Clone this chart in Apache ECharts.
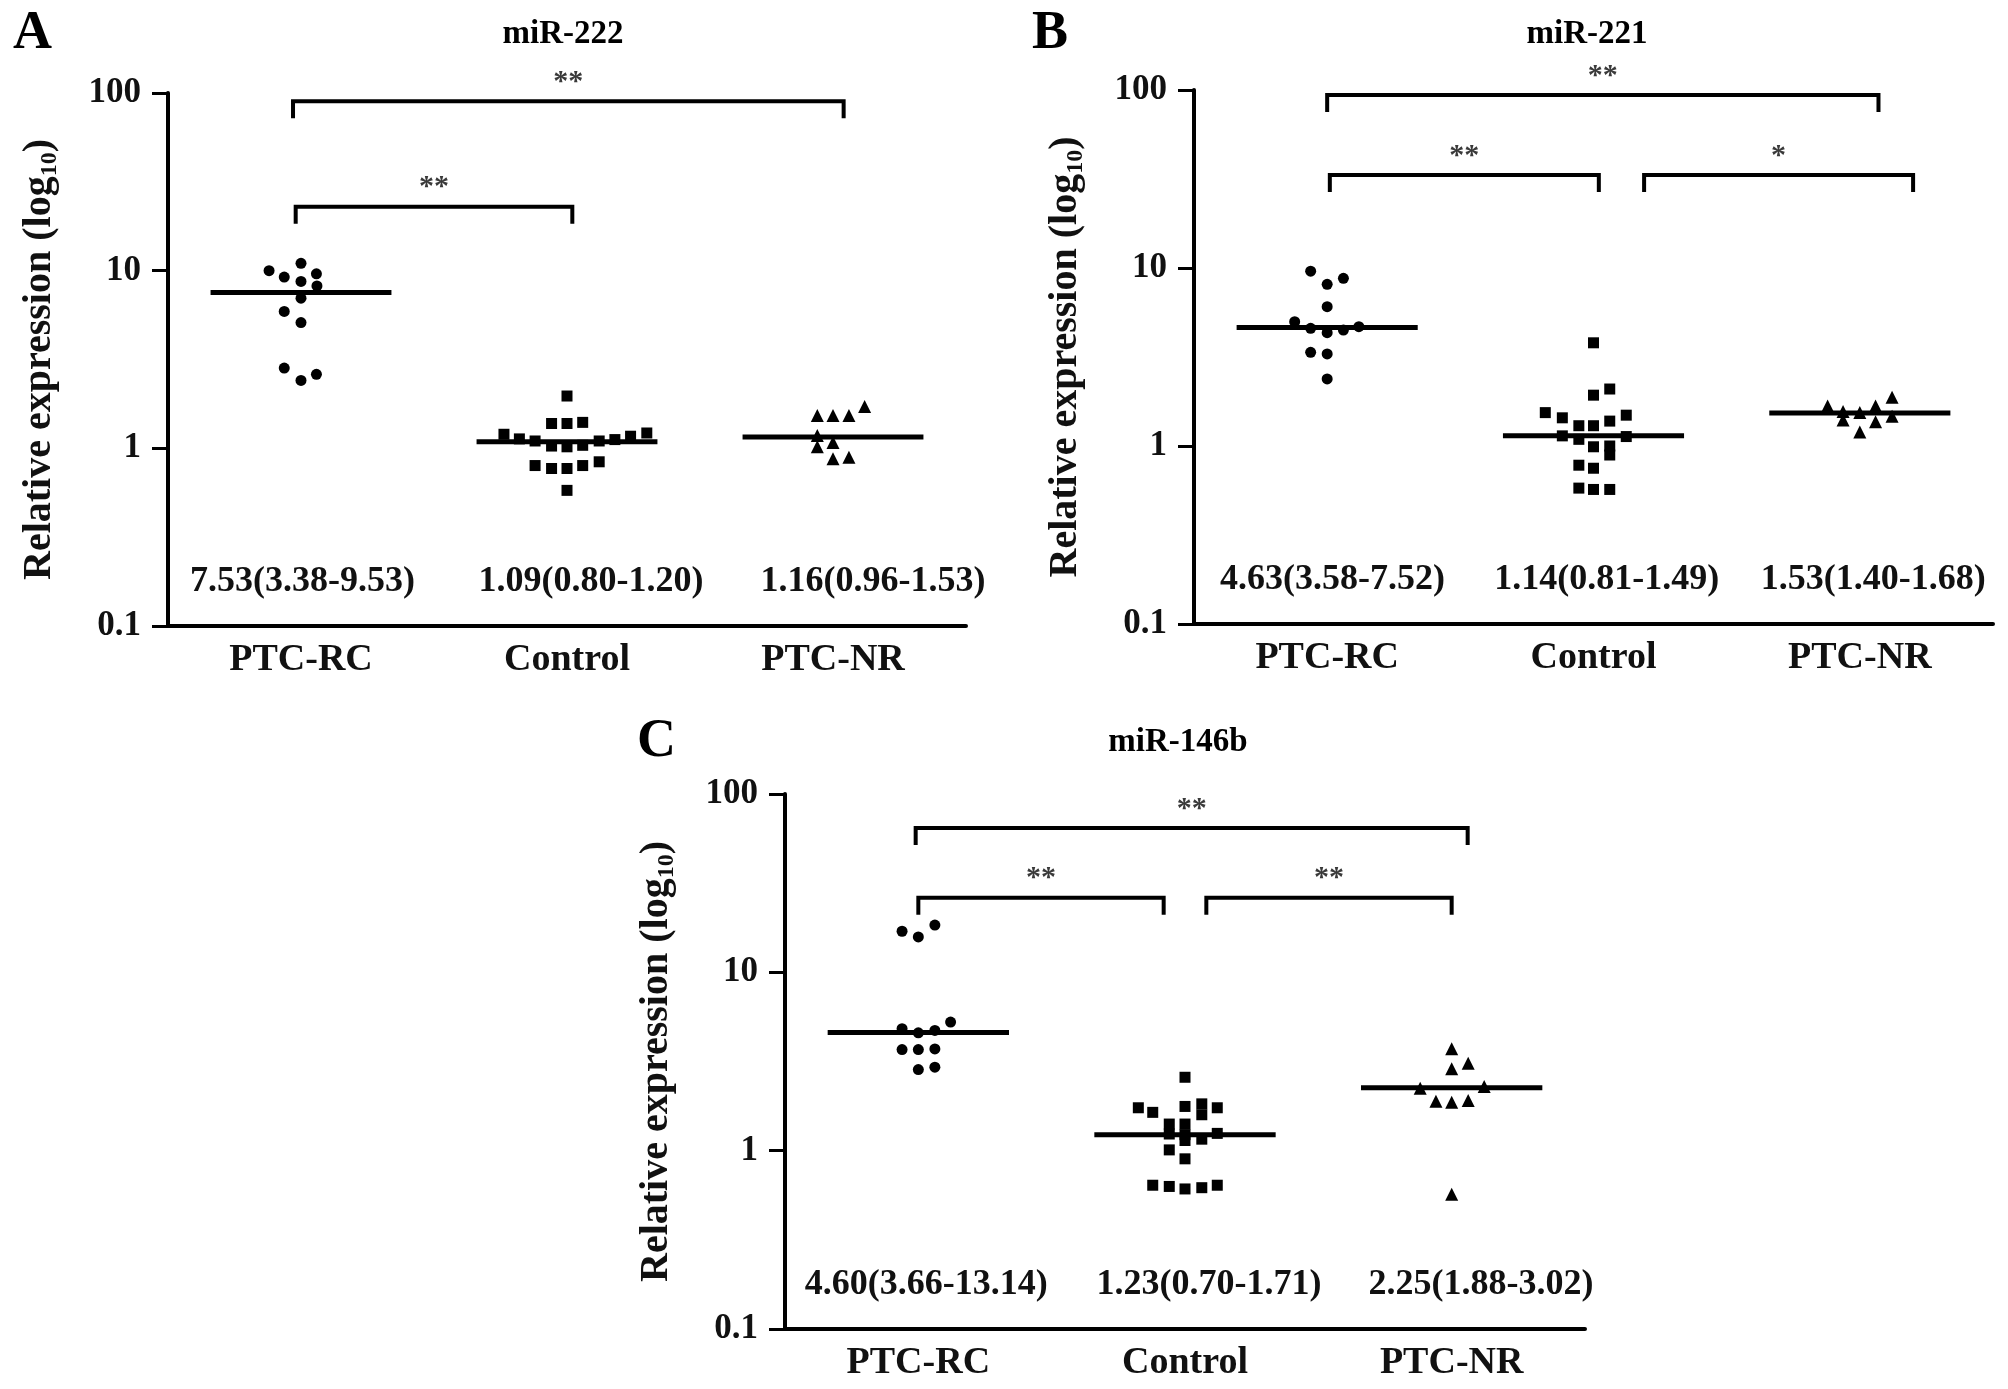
<!DOCTYPE html>
<html>
<head>
<meta charset="utf-8">
<script src="https://cdn.jsdelivr.net/npm/echarts@6/dist/echarts.min.js"></script>
<style>
  html, body { margin: 0; padding: 0; background: #fff; }
  #main { width: 2008px; height: 1389px; }
</style>
</head>
<body>
<div id="main"></div>
<script>
var categories = ['PTC-RC', 'Control', 'PTC-NR'];
var yTicks = [0.1, 1, 10, 100];

// miR-222 (A) — values and horizontal jitter (in category units)
var rc222 = [10.0, 9.2, 11.0, 8.7, 9.6, 8.2, 7.0, 5.9, 5.1, 2.83, 2.41, 2.61];
var rc222Dx = [-0.12, -0.063, 0, 0, 0.058, 0.06, 0, -0.063, 0, -0.063, 0, 0.058];
var ctrl222 = [1.97, 1.38, 1.38, 1.40, 1.20, 1.13, 1.10, 1.10, 1.12, 1.17, 1.22, 1.03, 1.02, 1.04, 0.80, 0.77, 0.77, 0.80, 0.84, 0.58];
var ctrl222Dx = [0, -0.058, 0, 0.059, -0.237, -0.179, -0.12, 0.121, 0.18, 0.239, 0.30, -0.058, 0, 0.059, -0.12, -0.058, 0, 0.059, 0.121, 0];
var nr222 = [1.53, 1.53, 1.53, 1.72, 1.18, 1.08, 1.02, 0.875, 0.89];
var nr222Dx = [-0.059, 0, 0.06, 0.119, -0.059, 0, -0.059, 0, 0.06];
var median222 = [7.53, 1.09, 1.16];
var q1_222 = [3.38, 0.80, 0.96];
var q3_222 = [9.53, 1.20, 1.53];
var sig222 = [[-0.03, 2.04, 89.8, '**'], [-0.02, 1.02, 22.9, '**']];

// miR-221 (B)
var rc221 = [9.6, 8.1, 8.75, 6.06, 4.99, 4.58, 4.33, 4.48, 4.68, 3.36, 3.29, 2.38];
var rc221Dx = [-0.062, 0, 0.061, 0, -0.122, -0.062, 0, 0.061, 0.119, -0.062, 0, 0];
var ctrl221 = [3.80, 1.93, 2.09, 1.54, 1.44, 1.49, 1.30, 1.30, 1.38, 1.14, 1.09, 1.13, 0.99, 1.0, 0.89, 0.78, 0.75, 0.58, 0.57, 0.57];
var ctrl221Dx = [0, 0, 0.061, -0.181, -0.117, 0.123, -0.055, 0, 0.061, -0.117, -0.055, 0.123, 0, 0.061, 0.061, -0.055, 0, -0.055, 0, 0.061];
var nr221 = [1.68, 1.56, 1.40, 1.54, 1.20, 1.68, 1.37, 1.88, 1.47];
var nr221Dx = [-0.121, -0.063, -0.063, 0, 0, 0.059, 0.059, 0.121, 0.121];
var median221 = [4.63, 1.14, 1.53];
var q1_221 = [3.58, 0.81, 1.40];
var q3_221 = [7.52, 1.49, 1.68];
var sig221 = [[0.0, 2.07, 93.7, '**'], [0.01, 1.02, 33.3, '**'], [1.19, 2.2, 33.3, '*']];

// miR-146b (C)
var rc146 = [17.0, 15.8, 18.4, 4.83, 4.58, 4.72, 5.26, 3.69, 3.69, 3.72, 2.85, 2.94];
var rc146Dx = [-0.061, 0, 0.062, -0.061, 0, 0.062, 0.121, -0.061, 0, 0.062, 0, 0.062];
var ctrl146 = [2.58, 1.74, 1.64, 1.77, 1.83, 1.59, 1.74, 1.41, 1.24, 1.41, 1.23, 1.14, 1.16, 1.25, 1.01, 0.90, 0.64, 0.63, 0.61, 0.62, 0.64];
var ctrl146Dx = [0, -0.175, -0.121, 0, 0.063, 0.063, 0.121, -0.059, -0.059, 0, 0, 0, 0.063, 0.121, -0.059, 0, -0.121, -0.059, 0, 0.063, 0.121];
var nr146 = [3.73, 3.09, 2.88, 2.24, 2.29, 1.89, 1.87, 1.91, 0.57];
var nr146Dx = [0, 0.062, 0, -0.118, 0.122, -0.059, 0, 0.062, 0];
var median146 = [4.60, 1.23, 2.25];
var q1_146 = [3.66, 0.70, 1.88];
var q3_146 = [13.14, 1.71, 3.02];
var sig146 = [[-0.01, 2.06, 64.4, '**'], [0.0, 0.92, 26.2, '**'], [1.08, 2.0, 26.2, '**']];

var panels = [
  { letter: 'A', title: 'miR-222', values: [rc222, ctrl222, nr222], dx: [rc222Dx, ctrl222Dx, nr222Dx],
    median: median222, q1: q1_222, q3: q3_222, sig: sig222 },
  { letter: 'B', title: 'miR-221', values: [rc221, ctrl221, nr221], dx: [rc221Dx, ctrl221Dx, nr221Dx],
    median: median221, q1: q1_221, q3: q3_221, sig: sig221 },
  { letter: 'C', title: 'miR-146b', values: [rc146, ctrl146, nr146], dx: [rc146Dx, ctrl146Dx, nr146Dx],
    median: median146, q1: q1_146, q3: q3_146, sig: sig146 }
];

// layout only
var layout = [
  { grid: { left: 168, top: 93, width: 798, height: 533 }, letter: [13, 7], title: [563, 18], labelShift: [0.006, 0.09, 0.15] },
  { grid: { left: 1194, top: 90, width: 799, height: 534 }, letter: [1032, 7], title: [1587, 18], labelShift: [0.02, 0.05, 0.05] },
  { grid: { left: 785, top: 794, width: 800, height: 535 }, letter: [637, 715], title: [1178, 726], labelShift: [0.03, 0.09, 0.11] }
];

var serif = '"Liberation Serif", "Times New Roman", serif';
var symbols = ['circle', 'rect', 'triangle'];
var symbolSizes = [11, 11, 13];
var halfLine = 0.34;
var labelY = 0.178;

var chart = echarts.init(document.getElementById('main'));

var grids = [], xAxes = [], yAxes = [], series = [], titles = [];

panels.forEach(function (p, g) {
  var lay = layout[g];
  grids.push(lay.grid);

  titles.push({ text: p.letter, left: lay.letter[0], top: lay.letter[1], padding: 0,
    textStyle: { fontFamily: serif, fontWeight: 'bold', fontSize: 54, color: '#000' } });
  titles.push({ text: p.title, left: lay.title[0], top: lay.title[1], padding: 0, textAlign: 'center',
    textStyle: { fontFamily: serif, fontWeight: 'bold', fontSize: 33, color: '#000' } });

  // visible category axis (labels + ticks)
  xAxes.push({
    type: 'category', gridIndex: g, data: categories, boundaryGap: true,
    axisLine: { onZero: false, lineStyle: { color: '#000', width: 4 } },
    axisTick: { alignWithLabel: true, length: 18, lineStyle: { color: '#000', width: 3 } },
    axisLabel: { fontFamily: serif, fontWeight: 'bold', fontSize: 38, color: '#111', margin: 15 },
    splitLine: { show: false }
  });
  // hidden value axis used to place jittered points
  xAxes.push({ type: 'value', gridIndex: g, min: -0.5, max: 2.5, show: false, splitLine: { show: false } });

  yAxes.push({
    type: 'log', logBase: 10, gridIndex: g, min: yTicks[0], max: yTicks[yTicks.length - 1],
    axisLine: { show: true, onZero: false, lineStyle: { color: '#000', width: 4 } },
    axisTick: { show: true, length: 16, lineStyle: { color: '#000', width: 3 } },
    minorTick: { show: false },
    splitLine: { show: false },
    axisLabel: { fontFamily: serif, fontWeight: 'bold', fontSize: 35, color: '#111', margin: 27,
      formatter: function (v) { return String(+v.toPrecision(3)); } },
    name: 'Relative expression (log{sub|10})',
    nameLocation: 'middle', nameRotate: 90, nameGap: 106,
    nameTextStyle: { fontFamily: serif, fontWeight: 'bold', fontSize: 40, color: '#111',
      rich: { sub: { fontFamily: serif, fontWeight: 'bold', fontSize: 24, color: '#111', verticalAlign: 'bottom', padding: [20, 0, 0, 0] } } }
  });

  var vx = 2 * g + 1;

  p.values.forEach(function (vals, c) {
    series.push({
      type: 'scatter', xAxisIndex: vx, yAxisIndex: g,
      symbol: symbols[c], symbolSize: symbolSizes[c],
      itemStyle: { color: '#000', opacity: 1 }, z: 4, silent: true,
      data: vals.map(function (v, i) { return [c + p.dx[c][i], v]; })
    });
  });

  // median lines and median(IQR) labels
  series.push({
    type: 'custom', xAxisIndex: vx, yAxisIndex: g, silent: true, z: 3,
    data: p.median.map(function (m, i) { return [i, m]; }),
    renderItem: function (params, api) {
      var i = params.dataIndex;
      var m = api.value(1);
      var l = api.coord([i - halfLine, m]);
      var r = api.coord([i + halfLine, m]);
      var t = api.coord([i + lay.labelShift[i], labelY]);
      var txt = p.median[i].toFixed(2) + '(' + p.q1[i].toFixed(2) + '-' + p.q3[i].toFixed(2) + ')';
      return { type: 'group', children: [
        { type: 'line', shape: { x1: l[0], y1: l[1], x2: r[0], y2: r[1] }, style: { stroke: '#000', lineWidth: 5 } },
        { type: 'text', x: t[0], y: t[1], style: { text: txt, fill: '#111', font: 'bold 36px ' + serif, align: 'center', verticalAlign: 'middle' } }
      ] };
    }
  });

  // significance brackets
  series.push({
    type: 'custom', xAxisIndex: vx, yAxisIndex: g, silent: true, z: 3,
    data: p.sig.map(function (s) { return [s[0], s[1], s[2]]; }),
    renderItem: function (params, api) {
      var s = p.sig[params.dataIndex];
      var a = api.coord([s[0], s[2]]);
      var b = api.coord([s[1], s[2]]);
      return { type: 'group', children: [
        { type: 'polyline', shape: { points: [[a[0], a[1] + 17], [a[0], a[1]], [b[0], b[1]], [b[0], b[1] + 17]] },
          style: { stroke: '#000', lineWidth: 4, fill: null } },
        { type: 'text', x: (a[0] + b[0]) / 2, y: a[1] - 4,
          style: { text: s[3], fill: '#3a3a3a', font: 'bold 30px ' + serif, align: 'center', verticalAlign: 'bottom' } }
      ] };
    }
  });
});

chart.setOption({
  backgroundColor: '#fff',
  animation: false,
  title: titles,
  grid: grids,
  xAxis: xAxes,
  yAxis: yAxes,
  series: series
});
</script>
</body>
</html>
